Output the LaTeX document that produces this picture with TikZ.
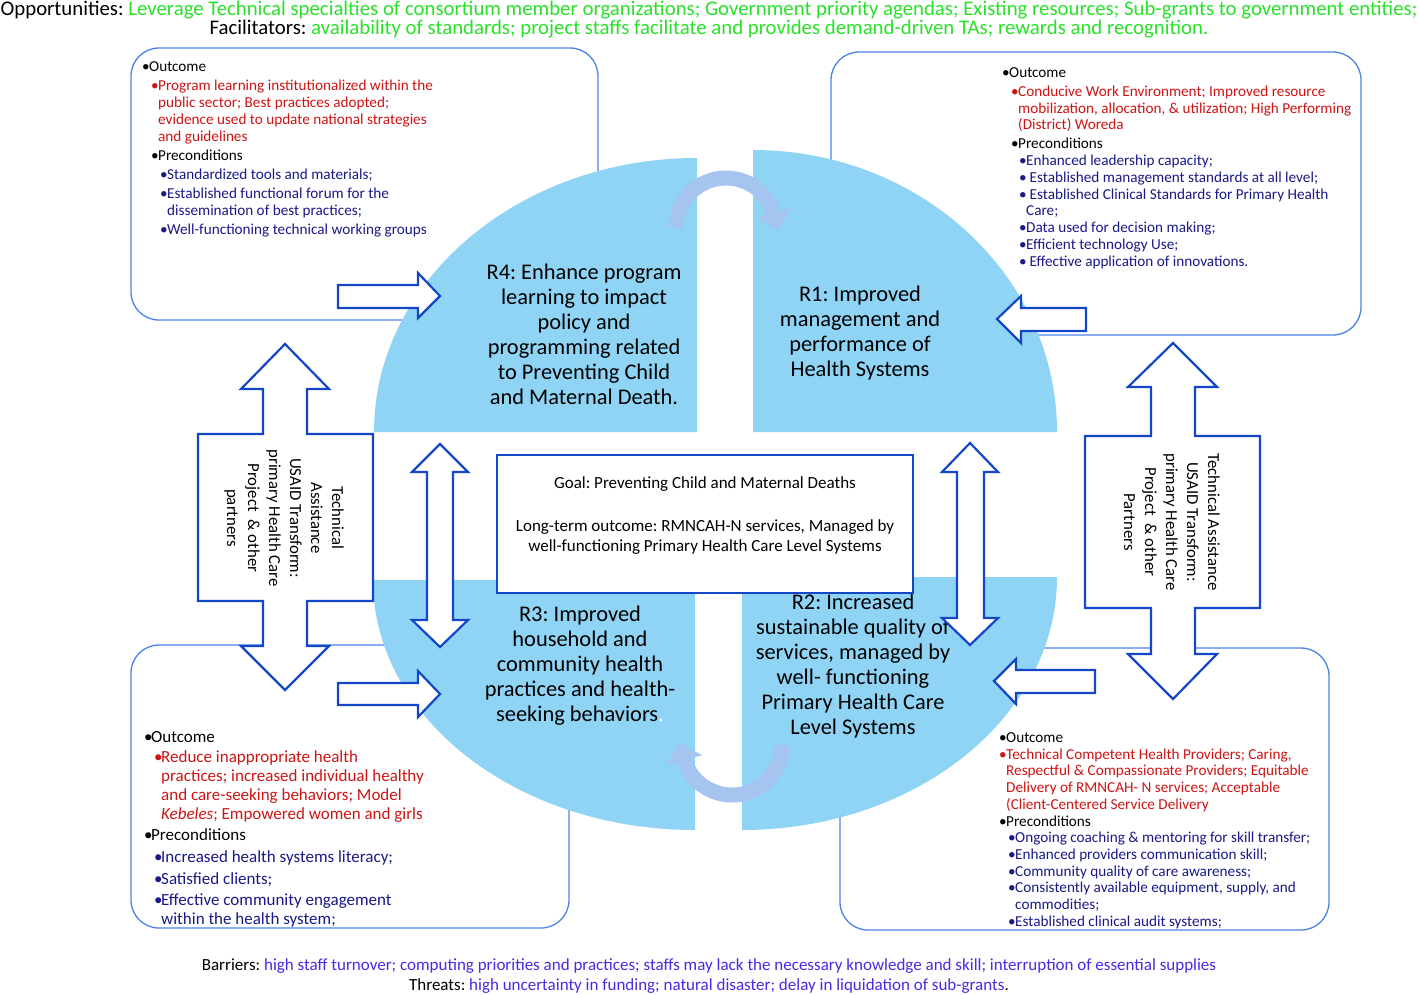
\documentclass[tikz,border=0pt]{standalone}
\usepackage{fontspec}
\setmainfont{Carlito}
\usepackage{xcolor}
\usetikzlibrary{arrows.meta,bending}

\definecolor{oppgreen}{RGB}{40,225,40}
\definecolor{outred}{RGB}{205,20,20}
\definecolor{precnavy}{RGB}{25,25,135}
\definecolor{barblue}{RGB}{75,40,230}
\definecolor{quadblue}{RGB}{143,212,245}
\definecolor{frameblue}{RGB}{75,130,230}
\definecolor{arrblue}{RGB}{20,70,200}
\definecolor{turnblue}{RGB}{165,196,240}

\newcommand{\bul}{\makebox[7pt][l]{\textbullet}}
\frenchspacing

\begin{document}
\begin{tikzpicture}[x=1pt,y=-1pt,
    framebox/.style={draw=frameblue,line width=1.3pt,rounded corners=28pt},
    quad/.style={fill=quadblue},
    blockarrow/.style={draw=arrblue,fill=white,line width=2.2pt,line join=miter},
    turnarrow/.style={draw=turnblue,line width=15pt,-{Triangle[length=17pt,width=36pt,bend]}},
    quadtext/.style={align=center,font=\fontsize{22.4}{25}\selectfont},
    boxtext/.style={anchor=north west,align=left,inner sep=0pt},
    tatext/.style={align=center,rotate=-90,font=\fontsize{16.8}{21}\selectfont},
    headtext/.style={inner sep=0pt,font=\fontsize{20.8}{22}\selectfont},
    foottext/.style={inner sep=0pt,font=\fontsize{17}{19}\selectfont}]

        \useasboundingbox (0,0) rectangle (1418,994);

        \draw[framebox] (131,48) rectangle (598,320);
        \draw[framebox] (831,52) rectangle (1361,335);
        \draw[framebox] (131,645) rectangle (569,928);
        \draw[framebox] (840,648) rectangle (1329,930);

        \fill[quad] (697,432) -- (374,432) arc[start angle=180,end angle=270,x radius=323,y radius=274] -- cycle;
        \fill[quad] (753,432) -- (753,150) arc[start angle=270,end angle=360,x radius=304,y radius=282] -- cycle;
        \fill[quad] (695,580) -- (373,580) arc[start angle=180,end angle=90,x radius=322,y radius=250] -- cycle;
        \fill[quad] (742,577) -- (1057,577) arc[start angle=0,end angle=90,x radius=315,y radius=253] -- cycle;

        \draw[turnarrow] (676,228) arc[start angle=180,end angle=362,radius=50];
        \draw[turnarrow] (782,745) arc[start angle=0,end angle=182,radius=50];

        \node[quadtext] (r4) at (584,334) {R4: Enhance program\\learning to impact\\policy and\\programming related\\to Preventing Child\\and Maternal Death.};
        \node[quadtext] (r1) at (860,333) {R1: Improved\\management and\\performance of\\Health Systems};
        \node[quadtext] (r3) at (580,666) {R3: Improved\\household and\\community health\\practices and health-\\seeking behaviors{\color{white}.}};
        \node[quadtext] (r2) at (853,666.5) {R2: Increased\\sustainable quality of\\services, managed by\\well- functioning\\Primary Health Care\\Level Systems};

        \draw[blockarrow] (285,344) -- (329,389) -- (307,389) -- (307,434) -- (373,434) -- (373,601) -- (307,601) -- (307,646)
            -- (329,646) -- (285,690) -- (241,646) -- (263,646) -- (263,601) -- (198,601) -- (198,434) -- (263,434) -- (263,389) -- (241,389) -- cycle;
        \draw[blockarrow] (1173,343) -- (1217,387) -- (1195,387) -- (1195,436) -- (1260,436) -- (1260,608) -- (1195,608) -- (1195,654)
            -- (1217,654) -- (1173,699) -- (1128,654) -- (1151,654) -- (1151,608) -- (1085,608) -- (1085,436) -- (1151,436) -- (1151,387) -- (1128,387) -- cycle;

        \draw[blockarrow] (440,444) -- (468,472) -- (453,472) -- (453,620) -- (468,620) -- (440,647) -- (412,620) -- (427,620) -- (427,472) -- (412,472) -- cycle;
        \draw[blockarrow] (970,443) -- (998,472) -- (984,472) -- (984,618) -- (998,618) -- (970,645) -- (942,618) -- (957,618) -- (957,472) -- (942,472) -- cycle;

        \draw[blockarrow] (338,285) -- (418,285) -- (418,273) -- (440,296) -- (418,318) -- (418,308) -- (338,308) -- cycle;
        \draw[blockarrow] (338,683) -- (418,683) -- (418,671) -- (440,694) -- (418,717) -- (418,705) -- (338,705) -- cycle;
        \draw[blockarrow] (1086,308) -- (1021,308) -- (1021,296) -- (997,319) -- (1021,343) -- (1021,331) -- (1086,331) -- cycle;
        \draw[blockarrow] (1095,670) -- (1016,670) -- (1016,659) -- (994,681) -- (1016,704) -- (1016,693) -- (1095,693) -- cycle;

        \node[tatext] (taleft) at (284,518) {Technical\\Assistance\\USAID Transform:\\primary Health Care\\Project ~\& other\\partners};
        \node[tatext] (taright) at (1172,522) {Technical Assistance\\USAID Transform:\\primary Health Care\\Project ~\& other\\Partners};

        \node[draw=arrblue,line width=2pt,fill=white,minimum width=416pt,minimum height=138pt] (goal) at (705,524) {};
        \node[align=center,font=\fontsize{17}{20}\selectfont] (goaltext) at (705,516)
            {Goal: Preventing Child and Maternal Deaths\\[23pt]Long-term outcome: RMNCAH-N services, Managed by\\well-functioning Primary Health Care Level Systems};

        \node[boxtext,font=\fontsize{15.2}{17}\selectfont] (tlbox) at (142,61.5) {%
            \bul Outcome\\[2pt]
            \hspace*{9pt}\color{outred}\bul Program learning institutionalized within the\\
            \hspace*{16pt}\color{outred}public sector; Best practices adopted;\\
            \hspace*{16pt}\color{outred}evidence used to update national strategies\\
            \hspace*{16pt}\color{outred}and guidelines\\[2pt]
            \hspace*{9pt}\color{black}\bul Preconditions\\[2pt]
            \hspace*{18pt}\color{precnavy}\bul Standardized tools and materials;\\[2pt]
            \hspace*{18pt}\color{precnavy}\bul Established functional forum for the\\
            \hspace*{25pt}\color{precnavy}dissemination of best practices;\\[2pt]
            \hspace*{18pt}\color{precnavy}\bul Well-functioning technical working groups};

        \node[boxtext,font=\fontsize{15.2}{16.8}\selectfont] (trbox) at (1002,67.5) {%
            \bul Outcome\\[2pt]
            \hspace*{9pt}\color{outred}\bul Conducive Work Environment; Improved resource\\
            \hspace*{16pt}\color{outred}mobilization, allocation, \& utilization; High Performing\\
            \hspace*{16pt}\color{outred}(District) Woreda\\[2pt]
            \hspace*{9pt}\color{black}\bul Preconditions\\
            \hspace*{17pt}\color{precnavy}\bul Enhanced leadership capacity;\\
            \hspace*{17pt}\color{precnavy}\bul\ Established management standards at all level;\\
            \hspace*{17pt}\color{precnavy}\bul\ Established Clinical Standards for Primary Health\\
            \hspace*{24pt}\color{precnavy}Care;\\
            \hspace*{17pt}\color{precnavy}\bul Data used for decision making;\\
            \hspace*{17pt}\color{precnavy}\bul Efficient technology Use;\\
            \hspace*{17pt}\color{precnavy}\bul\ Effective application of innovations.};

        \node[boxtext,font=\fontsize{17}{18.7}\selectfont] (blbox) at (144,731) {%
            \bul Outcome\\[2pt]
            \hspace*{10pt}\color{outred}\bul Reduce inappropriate health\\
            \hspace*{17pt}\color{outred}practices; increased individual healthy\\
            \hspace*{17pt}\color{outred}and care-seeking behaviors; Model\\
            \hspace*{17pt}\color{outred}\textit{Kebeles}; Empowered women and girls\\[3pt]
            \color{black}\bul Preconditions\\[3pt]
            \hspace*{10pt}\color{precnavy}\bul Increased health systems literacy;\\[3pt]
            \hspace*{10pt}\color{precnavy}\bul Satisfied clients;\\[3pt]
            \hspace*{10pt}\color{precnavy}\bul Effective community engagement\\
            \hspace*{17pt}\color{precnavy}within the health system;};

        \node[boxtext,font=\fontsize{15.2}{16.7}\selectfont] (brbox) at (999,732.5) {%
            \bul Outcome\\
            \color{outred}\bul Technical Competent Health Providers; Caring,\\
            \hspace*{7pt}\color{outred}Respectful \& Compassionate Providers; Equitable\\
            \hspace*{7pt}\color{outred}Delivery of RMNCAH- N services; Acceptable\\
            \hspace*{7pt}\color{outred}(Client-Centered Service Delivery\\
            \color{black}\bul Preconditions\\
            \hspace*{9pt}\color{precnavy}\bul Ongoing coaching \& mentoring for skill transfer;\\
            \hspace*{9pt}\color{precnavy}\bul Enhanced providers communication skill;\\
            \hspace*{9pt}\color{precnavy}\bul Community quality of care awareness;\\
            \hspace*{9pt}\color{precnavy}\bul Consistently available equipment, supply, and\\
            \hspace*{16pt}\color{precnavy}commodities;\\
            \hspace*{9pt}\color{precnavy}\bul Established clinical audit systems;};

        \node[headtext] (opps) at (709,10) {Opportunities: \textcolor{oppgreen}{Leverage Technical specialties of consortium member organizations; Government priority agendas; Existing resources; Sub-grants to government entities;}};
        \node[headtext] (facil) at (709,29) {Facilitators: \textcolor{oppgreen}{availability of standards; project staffs facilitate and provides demand-driven TAs; rewards and recognition.}};

        \node[foottext] (barr) at (709,966) {Barriers: \textcolor{barblue}{high staff turnover; computing priorities and practices; staffs may lack the necessary knowledge and skill; interruption of essential supplies}};
        \node[foottext] (threat) at (709,986) {Threats: \textcolor{barblue}{high uncertainty in funding; natural disaster; delay in liquidation of sub-grants}.};

\end{tikzpicture}
\end{document}
